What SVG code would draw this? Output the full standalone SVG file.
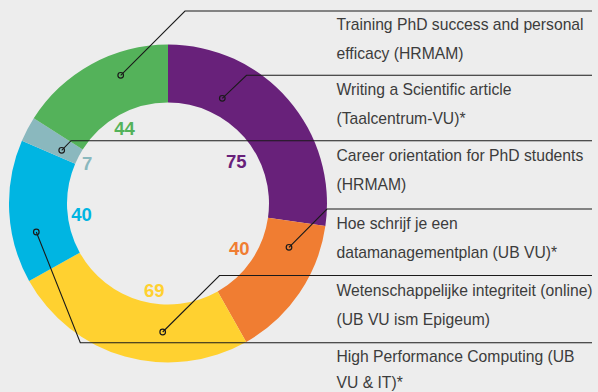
<svg xmlns="http://www.w3.org/2000/svg" width="598" height="392" viewBox="0 0 598 392">
<style>
.lbl{font-family:"Liberation Sans",Arial,sans-serif;font-size:15.7px;fill:#3c3c3c}
.num{font-family:"Liberation Sans",Arial,sans-serif;font-size:18.5px;font-weight:bold;text-anchor:middle}
.lead{fill:none;stroke:#1a1a1a;stroke-width:1.1}
.dot{fill:none;stroke:#1a1a1a;stroke-width:1.2}
</style>
<rect width="598" height="392" fill="#ededed"/>
<g id="seg-purple"><path d="M168,44.5 A159,159 0 0 1 325.38,226.12 L267.97,217.87 A101,101 0 0 0 168,102.5 Z" fill="#68217a"/></g>
<g id="seg-orange"><path d="M325.38,226.12 A159,159 0 0 1 246.18,341.95 L217.66,291.45 A101,101 0 0 0 267.97,217.87 Z" fill="#f07d32"/></g>
<g id="seg-yellow"><path d="M246.18,341.95 A159,159 0 0 1 29.11,280.91 L79.77,252.67 A101,101 0 0 0 217.66,291.45 Z" fill="#ffd130"/></g>
<g id="seg-blue"><path d="M29.11,280.91 A159,159 0 0 1 21.90,140.76 L75.20,163.65 A101,101 0 0 0 79.77,252.67 Z" fill="#00b5e2"/></g>
<g id="seg-lightblue"><path d="M21.90,140.76 A159,159 0 0 1 33.75,118.30 L82.72,149.38 A101,101 0 0 0 75.20,163.65 Z" fill="#8ab8be"/></g>
<g id="seg-green"><path d="M33.75,118.30 A159,159 0 0 1 168,44.5 L168,102.5 A101,101 0 0 0 82.72,149.38 Z" fill="#54b25a"/></g>
<g id="values">
<text class="num" x="236.3" y="168.3" fill="#68217a">75</text>
<text class="num" x="239.3" y="255" fill="#f07d32">40</text>
<text class="num" x="154.2" y="296.7" fill="#ffd130">69</text>
<text class="num" x="81.5" y="221" fill="#00b5e2">40</text>
<text class="num" x="87.2" y="170" fill="#8ab8be">7</text>
<text class="num" x="124.5" y="135" fill="#54b25a">44</text>
</g>
<g id="connectors">
<polyline class="lead" points="120.7,75.3 185,11 592,11"/>
<polyline class="lead" points="222.3,98.3 246.5,75.3 592,75.3"/>
<polyline class="lead" points="61.7,150.3 71,140.7 592,140.7"/>
<polyline class="lead" points="289,247.3 327,209 592,209"/>
<polyline class="lead" points="162.7,332 219.5,275.5 592,275.5"/>
<polyline class="lead" points="36.3,232 80.3,342.7 592,342.7"/>
<circle class="dot" cx="120.7" cy="75.3" r="2.8"/>
<circle class="dot" cx="222.3" cy="98.3" r="2.8"/>
<circle class="dot" cx="61.7" cy="150.3" r="2.8"/>
<circle class="dot" cx="289" cy="247.3" r="2.8"/>
<circle class="dot" cx="162.7" cy="332" r="2.8"/>
<circle class="dot" cx="36.3" cy="232" r="2.8"/>
</g>
<g id="label-1"><text class="lbl" x="336.5" y="29.5">Training PhD success and personal</text><text class="lbl" x="336.5" y="58.5">efficacy (HRMAM)</text></g>
<g id="label-2"><text class="lbl" x="336.5" y="95">Writing a Scientific article</text><text class="lbl" x="336.5" y="124">(Taalcentrum-VU)*</text></g>
<g id="label-3"><text class="lbl" x="336.5" y="161">Career orientation for PhD students</text><text class="lbl" x="336.5" y="190">(HRMAM)</text></g>
<g id="label-4"><text class="lbl" x="336.5" y="229">Hoe schrijf je een</text><text class="lbl" x="336.5" y="258">datamanagementplan (UB VU)*</text></g>
<g id="label-5"><text class="lbl" x="336.5" y="296">Wetenschappelijke integriteit (online)</text><text class="lbl" x="336.5" y="325">(UB VU ism Epigeum)</text></g>
<g id="label-6"><text class="lbl" x="336.5" y="362">High Performance Computing (UB</text><text class="lbl" x="336.5" y="388">VU &amp; IT)*</text></g>
</svg>
